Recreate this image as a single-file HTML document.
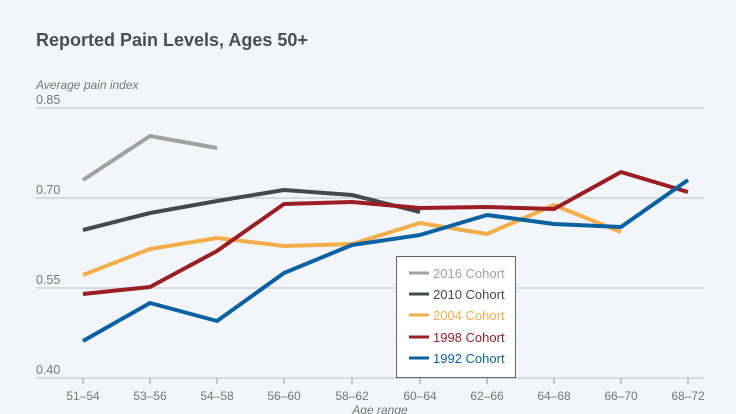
<!DOCTYPE html>
<html><head><style>
body{margin:0;background:#f2f6fa;}
svg{display:block;font-family:"Source Sans Pro","Liberation Sans",sans-serif;}
</style></head><body>
<svg width="736" height="414" viewBox="0 0 736 414" xmlns="http://www.w3.org/2000/svg">
<rect width="736" height="414" fill="#f2f6fa"/>
<text x="36" y="46" font-size="18" font-weight="600" fill="#4a4e55">Reported Pain Levels, Ages 50+</text>
<text x="36" y="89" font-size="12" font-style="italic" fill="#777">Average pain index</text>
<g font-size="12.5" fill="#777">
<text x="36" y="104">0.85</text><text x="36" y="194">0.70</text><text x="36" y="284">0.55</text><text x="36" y="374">0.40</text>
</g>
<g stroke="#c8ccd2" stroke-width="1.2">
<line x1="36" y1="108" x2="704" y2="108"/><line x1="36" y1="198" x2="704" y2="198"/>
<line x1="36" y1="288" x2="704" y2="288"/><line x1="36" y1="378" x2="704" y2="378"/>
</g>
<g stroke="#999" stroke-width="1">
<line x1="83" y1="378" x2="83" y2="384"/><line x1="150" y1="378" x2="150" y2="384"/><line x1="217" y1="378" x2="217" y2="384"/><line x1="284" y1="378" x2="284" y2="384"/><line x1="352" y1="378" x2="352" y2="384"/><line x1="420" y1="378" x2="420" y2="384"/><line x1="487" y1="378" x2="487" y2="384"/><line x1="554" y1="378" x2="554" y2="384"/><line x1="621" y1="378" x2="621" y2="384"/><line x1="688" y1="378" x2="688" y2="384"/>
</g>
<g font-size="12" fill="#777" text-anchor="middle">
<text x="83" y="400">51–54</text><text x="150" y="400">53–56</text><text x="217" y="400">54–58</text><text x="284" y="400">56–60</text><text x="352" y="400">58–62</text><text x="420" y="400">60–64</text><text x="487" y="400">62–66</text><text x="554" y="400">64–68</text><text x="621" y="400">66–70</text><text x="688" y="400">68–72</text>
<text x="380" y="414" font-style="italic">Age range</text>
</g>
<g fill="none" stroke-width="4" stroke-linejoin="round">
<polyline stroke="#a0a0a0" points="83,180 150,136 217,148"/>
<polyline stroke="#46484c" points="83,230 150,213 217,201 284,190 352,195 420,212"/>
<polyline stroke="#f2ae4a" points="83,275 150,249 217,238 284,246 352,244 420,223 487,234 554,205 621,232"/>
<polyline stroke="#9a1e24" points="83,294 150,287 217,251 284,204 352,202 420,208 487,207 554,209 621,172 688,192"/>
<polyline stroke="#0b62a0" points="83,341 150,303 217,321 284,273 352,245 420,235 487,215 554,224 621,227 688,180"/>
</g>
<rect x="396.5" y="256.5" width="119" height="121" fill="#fff" stroke="#666" stroke-width="1"/>
<g stroke-width="3">
<line x1="409" y1="273" x2="429" y2="273" stroke="#a0a0a0"/>
<line x1="409" y1="294" x2="429" y2="294" stroke="#46484c"/>
<line x1="409" y1="315" x2="429" y2="315" stroke="#f2ae4a"/>
<line x1="409" y1="337" x2="429" y2="337" stroke="#9a1e24"/>
<line x1="409" y1="358" x2="429" y2="358" stroke="#0b62a0"/>
</g>
<g font-size="13">
<text x="433" y="278" fill="#a0a0a0">2016 Cohort</text>
<text x="433" y="299" fill="#46484c">2010 Cohort</text>
<text x="433" y="320" fill="#f2ae4a">2004 Cohort</text>
<text x="433" y="342" fill="#9a1e24">1998 Cohort</text>
<text x="433" y="363" fill="#0b62a0">1992 Cohort</text>
</g>
</svg>
</body></html>
